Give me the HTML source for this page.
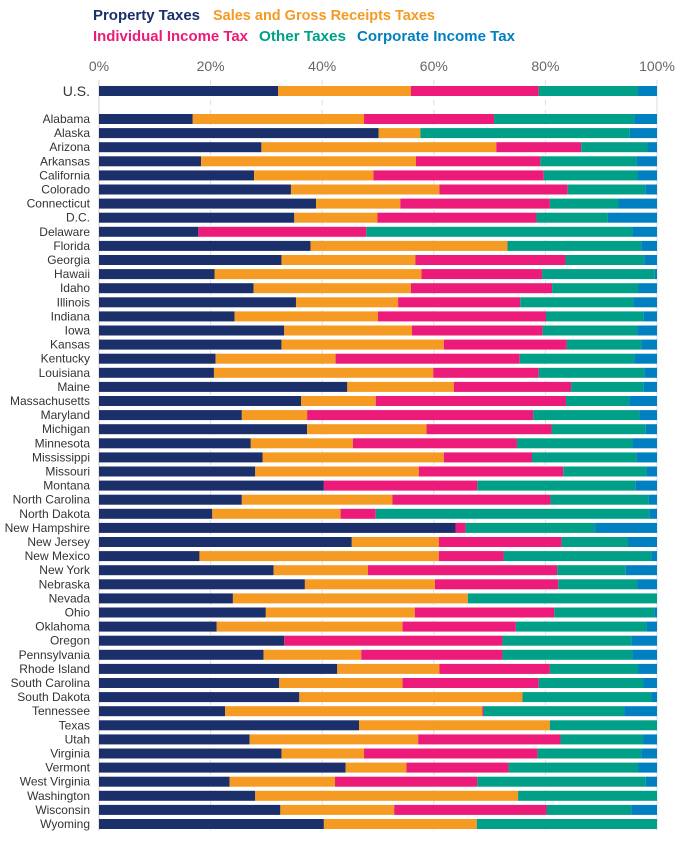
<!DOCTYPE html>
<html><head><meta charset="utf-8"><style>
body{margin:0;background:#fff;font-family:"Liberation Sans",sans-serif}
svg text{font-family:"Liberation Sans",sans-serif}
</style></head><body>
<svg id="chart" width="685" height="845" viewBox="0 0 685 845" xmlns="http://www.w3.org/2000/svg">
<g font-size="15" font-weight="bold">
<text x="93" y="20" fill="#1b2f6b" textLength="107" lengthAdjust="spacingAndGlyphs">Property Taxes</text>
<text x="213" y="20" fill="#f59a23" textLength="222" lengthAdjust="spacingAndGlyphs">Sales and Gross Receipts Taxes</text>
<text x="93" y="41" fill="#ec1a78" textLength="155" lengthAdjust="spacingAndGlyphs">Individual Income Tax</text>
<text x="259" y="41" fill="#00a088" textLength="87" lengthAdjust="spacingAndGlyphs">Other Taxes</text>
<text x="357" y="41" fill="#0080c0" textLength="158" lengthAdjust="spacingAndGlyphs">Corporate Income Tax</text>
</g>
<g id="grid"></g><g id="bars"></g><g id="labels"></g>
</svg>
<script>
const categories=["U.S.","Alabama","Alaska","Arizona","Arkansas","California","Colorado","Connecticut","D.C.","Delaware","Florida","Georgia","Hawaii","Idaho","Illinois","Indiana","Iowa","Kansas","Kentucky","Louisiana","Maine","Massachusetts","Maryland","Michigan","Minnesota","Mississippi","Missouri","Montana","North Carolina","North Dakota","New Hampshire","New Jersey","New Mexico","New York","Nebraska","Nevada","Ohio","Oklahoma","Oregon","Pennsylvania","Rhode Island","South Carolina","South Dakota","Tennessee","Texas","Utah","Virginia","Vermont","West Virginia","Washington","Wisconsin","Wyoming"];
const propertyTaxes=[32.1,16.8,50.1,29.1,18.3,27.8,34.4,38.9,35.0,17.8,37.9,32.7,20.7,27.7,35.3,24.3,33.2,32.7,20.9,20.6,44.5,36.2,25.6,37.3,27.2,29.3,28.0,40.3,25.6,20.3,63.9,45.3,18.0,31.3,36.9,24.0,29.9,21.1,33.2,29.5,42.7,32.3,35.9,22.6,46.6,27.0,32.7,44.2,23.4,28.0,32.5,40.3];
const salesTaxes=[23.8,30.7,7.5,42.1,38.5,21.4,26.6,15.1,14.9,0,35.3,24.0,37.1,28.2,18.3,25.7,22.9,29.1,21.5,39.3,19.1,13.4,11.7,21.4,18.3,32.5,29.3,0,27.0,23.0,0,15.6,42.9,16.9,23.3,42.1,26.7,33.3,0,17.5,18.3,22.1,40.0,46.1,34.2,30.2,14.8,10.9,18.9,47.1,20.4,27.4];
const individualIncomeTax=[22.9,23.3,0,15.2,22.3,30.5,23.0,26.8,28.5,30.1,0,26.9,21.6,25.3,21.9,30.1,23.4,22.0,33.0,18.9,21.0,34.1,40.5,22.4,29.4,15.8,25.9,27.5,28.3,6.3,1.8,22.0,11.6,33.9,22.1,0,25.0,20.3,39.1,25.3,19.8,24.4,0,0.2,0,25.5,31.1,18.3,25.5,0,27.3,0];
const otherTaxes=[17.8,25.1,37.5,11.9,17.2,16.8,13.9,12.3,12.8,47.7,24.0,14.1,20.2,15.4,20.3,17.5,17.0,13.4,20.5,18.9,13.0,11.3,19.0,16.9,20.7,18.7,14.9,28.3,17.6,49.0,23.2,11.9,26.5,12.3,14.2,33.9,17.9,23.4,23.1,23.3,15.8,18.7,23.1,25.2,19.2,14.8,18.6,23.2,30.2,24.9,15.2,32.3];
const corporateIncomeTax=[3.4,4.1,4.9,1.7,3.7,3.5,2.1,6.9,8.8,4.4,2.8,2.3,0.4,3.4,4.2,2.4,3.5,2.8,4.1,2.3,2.4,5.0,3.2,2.0,4.4,3.7,1.9,3.9,1.5,1.4,11.1,5.2,1.0,5.6,3.5,0,0.5,1.9,4.6,4.4,3.4,2.5,1.0,5.9,0,2.5,2.8,3.4,2.0,0,4.6,0];
const tickLabels=["0%","20%","40%","60%","80%","100%"];
const tickValues=[0,20,40,60,80,100];

const NS="http://www.w3.org/2000/svg";
const x0=99,x1=657;
const xScale=v=>x0+(x1-x0)*v/100;
const yCenter=i=>i===0?91:119+(i-1)*14.1;
const barH=10;
const series=[propertyTaxes,salesTaxes,individualIncomeTax,otherTaxes,corporateIncomeTax];
const colors=["#1b2f6b","#f59a23","#ec1a78","#00a088","#0080c0"];
const names=["property","sales","individual-income","other","corporate-income"];
function mk(t,a){const e=document.createElementNS(NS,t);for(const k in a)e.setAttribute(k,a[k]);return e;}
const grid=document.getElementById('grid'),bars=document.getElementById('bars'),labels=document.getElementById('labels');
tickValues.forEach((v,i)=>{
  const x=xScale(v);
  const ln=mk('line',{x1:x,x2:x,y1:80,y2:831,stroke:i===0?'#cfcfcf':'#dddddd','stroke-width':1,'stroke-dasharray':i===0||i===5?'':'5,5'});
  
  
  grid.appendChild(ln);
  const t=mk('text',{x:x,y:71,'font-size':14,fill:'#666','text-anchor':'middle'});
  t.textContent=tickLabels[i];
  
  
  grid.appendChild(t);
});
categories.forEach((c,i)=>{
  const yc=yCenter(i);
  let acc=0;
  series.forEach((s,k)=>{
    const v=s[i];
    if(v>0){
      const r=mk('rect',{x:xScale(acc),y:yc-barH/2,width:xScale(acc+v)-xScale(acc),height:barH,fill:colors[k]});
      
      
      bars.appendChild(r);
    }
    acc+=v;
  });
  const t=mk('text',{x:90,y:yc+(i===0?5:4),'font-size':i===0?14:12,fill:'#333','text-anchor':'end'});
  t.textContent=c;
  
  
  labels.appendChild(t);
});
</script>
</body></html>
